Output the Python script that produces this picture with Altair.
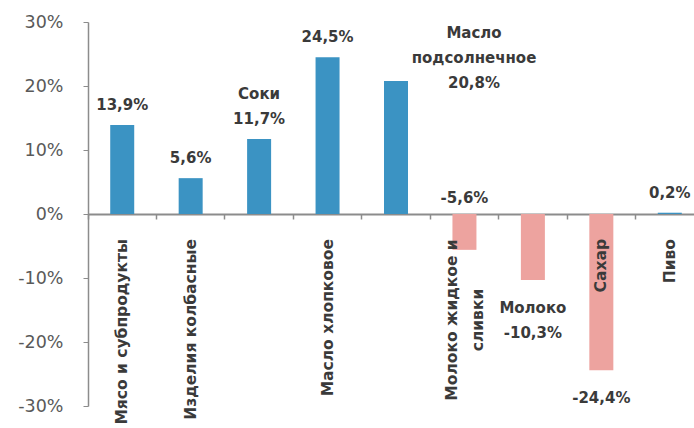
import altair as alt
import pandas as pd

categories = ["Мясо и субпродукты", "Изделия колбасные", "Соки", "Масло хлопковое",
              "Масло подсолнечное", "Молоко жидкое и сливки", "Молоко", "Сахар", "Пиво"]
values = [13.9, 5.6, 11.7, 24.5, 20.8, -5.6, -10.3, -24.4, 0.2]
axis_labels = ["Мясо и субпродукты", "Изделия колбасные", "", "Масло хлопковое",
               "", "Молоко жидкое и|сливки", "", "Сахар", "Пиво"]
value_labels = ["13,9%", "5,6%", "Соки|11,7%", "24,5%", "Масло|подсолнечное|20,8%",
                "-5,6%", "Молоко|-10,3%", "-24,4%", "0,2%"]
label_group = ["above", "above", "above2", "above", "right", "zero", "below", "below", "above"]

df = pd.DataFrame({"cat": categories, "value": values, "axis_label": axis_labels,
                   "vlabel": value_labels, "group": label_group})

BLUE = "#3b93c3"
PINK = "#eda39f"
TXT = "#3a3a3a"
FONT = "DejaVu Sans"

x_enc = alt.X("cat:N", sort=categories,
              scale=alt.Scale(range=[0, 616], paddingInner=0, paddingOuter=0),
              axis=alt.Axis(title=None, labels=False, offset=-192, domainColor="#8c8c8c",
                            domainWidth=2, tickColor="#8c8c8c", tickSize=5, tickWidth=1.5,
                            bandPosition=0, grid=False))
y_scale = alt.Scale(domain=[-30, 30], nice=False)
y_enc = alt.Y("value:Q", scale=y_scale,
              axis=alt.Axis(title=None, values=[-30, -20, -10, 0, 10, 20, 30],
                            labelExpr="datum.value + '%'", labelFont=FONT, labelFontSize=17.5,
                            labelColor="#595959", labelPadding=20, tickSize=5,
                            tickColor="#8c8c8c", domainColor="#8c8c8c", domainWidth=1.5,
                            grid=False))

base = alt.Chart(df)

bars = base.mark_bar(size=24).encode(
    x=x_enc,
    y=y_enc,
    color=alt.condition(alt.datum.value > 0, alt.value(BLUE), alt.value(PINK)),
)

txt = dict(font=FONT, fontSize=15, fontWeight="bold", color=TXT, lineBreak="|", lineHeight=25)
xc = alt.X("cat:N", sort=categories)


def label_layer(group, **kw):
    return base.transform_filter(alt.datum.group == group).mark_text(**txt, **kw).encode(
        x=xc, y="value:Q", text="vlabel:N")


above = label_layer("above", baseline="bottom", dy=-12)
above2 = label_layer("above2", baseline="bottom", dy=-37)
right = label_layer("right", baseline="bottom", dy=-40, dx=78)
zero = label_layer("zero", baseline="bottom", dy=-44)
below = label_layer("below", baseline="top", dy=21)

rot = dict(font=FONT, fontSize=15.5, fontWeight="bold", color=TXT, angle=270, lineBreak="|",
           lineHeight=26, baseline="middle")
cat_single = base.transform_filter(
    (alt.datum.axis_label != "") & (alt.expr.indexof(alt.datum.axis_label, "|") < 0)
).mark_text(align="right", dx=-25, **rot).encode(
    x=xc, y=alt.datum(0), text="axis_label:N")
cat_multi = base.transform_filter(
    alt.expr.indexof(alt.datum.axis_label, "|") >= 0
).mark_text(align="center", dx=-106, dy=-12, **rot).encode(
    x=xc, y=alt.datum(0), text="axis_label:N")

chart = alt.layer(bars, above, above2, right, zero, below, cat_single, cat_multi).properties(
    width=606, height=384,
    autosize=alt.AutoSizeParams(type="none"),
    padding={"left": 88, "top": 22, "right": 0, "bottom": 22},
    background="white",
).configure_view(stroke=None)

chart.save("out.html", embed_options={"renderer": "svg", "actions": False})
